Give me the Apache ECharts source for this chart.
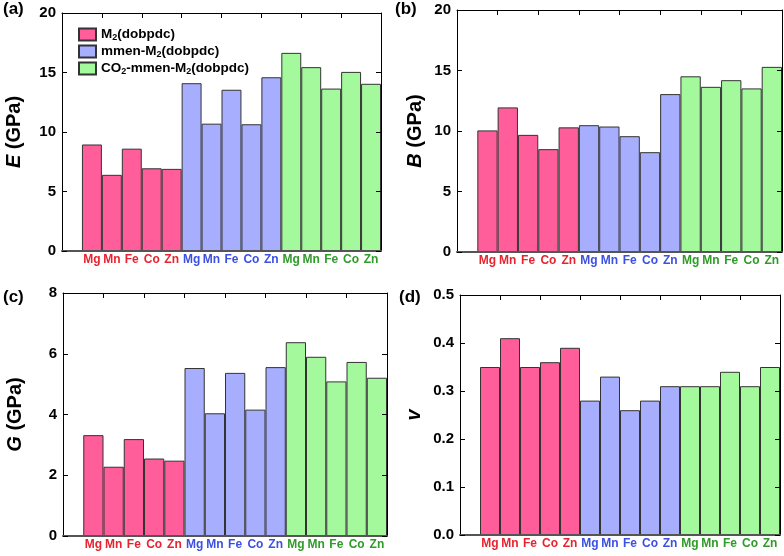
<!DOCTYPE html>
<html lang="en">
<head>
<meta charset="UTF-8" />
<style>
  html, body { margin: 0; padding: 0; background: #fff; }
  #main { width: 784px; height: 556px; }
</style>
</head>
<body>
<div id="main"></div>
<script src="https://cdn.jsdelivr.net/npm/echarts@6/dist/echarts.min.js"></script>
<script>
// metals in each group, three groups of frameworks
var metals = ['Mg', 'Mn', 'Fe', 'Co', 'Zn'];
var groupNames = ['M2(dobpdc)', 'mmen-M2(dobpdc)', 'CO2-mmen-M2(dobpdc)'];

// (a) Young's modulus E (GPa)
var E_m2   = [8.95, 6.4, 8.6, 6.95, 6.9];
var E_mmen = [14.1, 10.7, 13.55, 10.65, 14.6];
var E_co2  = [16.65, 15.45, 13.65, 15.05, 14.05];
// (b) bulk modulus B (GPa)
var B_m2   = [10.05, 11.95, 9.68, 8.5, 10.3];
var B_mmen = [10.48, 10.37, 9.57, 8.25, 13.05];
var B_co2  = [14.52, 13.65, 14.2, 13.52, 15.3];
// (c) shear modulus G (GPa)
var G_m2   = [3.32, 2.28, 3.19, 2.55, 2.48];
var G_mmen = [5.53, 4.04, 5.37, 4.16, 5.56];
var G_co2  = [6.38, 5.9, 5.09, 5.73, 5.21];
// (d) Poisson's ratio v
var v_m2   = [0.35, 0.41, 0.35, 0.36, 0.39];
var v_mmen = [0.28, 0.33, 0.26, 0.28, 0.31];
var v_co2  = [0.31, 0.31, 0.34, 0.31, 0.35];

// y axis ranges
var yMin = [0, 0, 0, 0];
var yMax = [20, 20, 8, 0.5];
var yStep = [5, 5, 2, 0.1];

var barColors = ['#ff5e9a', '#a7aefe', '#a3f99c'];
var labelColors = ['#e8232f', '#3c50e2', '#2f9b28'];

// first slot is left empty, as in the figure
var cats = [''];
for (var g = 0; g < 3; g++) cats = cats.concat(metals);

var panels = [
  { sets: [E_m2, E_mmen, E_co2], name: '{i|E} (GPa)', tag: '(a)', gap: 38 },
  { sets: [B_m2, B_mmen, B_co2], name: '{i|B} (GPa)', tag: '(b)', gap: 32 },
  { sets: [G_m2, G_mmen, G_co2], name: '{i|G} (GPa)', tag: '(c)', gap: 38 },
  { sets: [v_m2, v_mmen, v_co2], name: '{i|v}', tag: '(d)', gap: 36 }
];

var grids = [
  { left: 62, top: 13, width: 319, height: 238 },
  { left: 457, top: 10, width: 325, height: 242 },
  { left: 63, top: 293, width: 324, height: 243 },
  { left: 460, top: 295, width: 320, height: 240 }
];

var tagPos = [[3, 1], [395, 1], [3, 289], [399, 289]];

function sub(name) {
  return '{t|' + name.replace(/2/g, '}{s|2}{t|') + '}';
}

function ticks() {
  return { show: true, inside: true, length: 5, lineStyle: { color: '#000', width: 1 } };
}

var xAxes = [], yAxes = [], series = [], titles = [];

panels.forEach(function (p, k) {
  // bottom axis with labels
  xAxes.push({
    type: 'category', gridIndex: k, data: cats, position: 'bottom', z: 5,
    axisLine: { onZero: false, lineStyle: { color: '#555', width: 2 } },
    axisTick: { show: false },
    axisLabel: {
      interval: 0, margin: 3, fontSize: 12, fontWeight: 'bold',
      fontFamily: 'Liberation Sans, Arial',
      formatter: function (val, idx) {
        if (!val) return '';
        return '{g' + Math.floor((idx - 1) / 5) + '|' + val + '}';
      },
      rich: {
        g0: { color: labelColors[0], fontSize: 12, fontWeight: 'bold' },
        g1: { color: labelColors[1], fontSize: 12, fontWeight: 'bold' },
        g2: { color: labelColors[2], fontSize: 12, fontWeight: 'bold' }
      }
    }
  });
  // left axis
  yAxes.push({
    type: 'value', gridIndex: k, min: yMin[k], max: yMax[k], interval: yStep[k], z: 5,
    name: p.name, nameLocation: 'middle', nameGap: p.gap, nameRotate: 90,
    nameTextStyle: {
      fontSize: 20, fontWeight: 'bold', color: '#000', fontFamily: 'Liberation Sans, Arial',
      rich: { i: { fontSize: 20, fontWeight: 'bold', fontStyle: 'italic', color: '#000', fontFamily: 'Liberation Sans, Arial' } }
    },
    splitLine: { show: false },
    axisLine: { show: true, onZero: false, lineStyle: { color: '#000', width: 1 } },
    axisTick: ticks(),
    axisLabel: {
      margin: 6, fontSize: 15, fontWeight: 'bold', color: '#000',
      fontFamily: 'Liberation Sans, Arial',
      formatter: function (v) { return k === 3 ? v.toFixed(1) : String(v); }
    }
  });
  titles.push({
    text: p.tag, left: tagPos[k][0], top: tagPos[k][1], padding: 0,
    textStyle: { fontSize: 17, fontWeight: 'bold', color: '#000', fontFamily: 'Liberation Sans, Arial' }
  });
});

panels.forEach(function (p, k) {
  // top and right frame with inward ticks
  xAxes.push({
    type: 'category', gridIndex: k, data: cats, position: 'top', z: 5,
    axisLine: { show: true, onZero: false, lineStyle: { color: '#000', width: 1 } },
    axisTick: ticks(),
    axisLabel: { show: false }
  });
  yAxes.push({
    type: 'value', gridIndex: k, min: yMin[k], max: yMax[k], interval: yStep[k], z: 5,
    position: 'right', splitLine: { show: false },
    axisLine: { show: true, onZero: false, lineStyle: { color: '#000', width: 1 } },
    axisTick: ticks(),
    axisLabel: { show: false }
  });
});

panels.forEach(function (p, k) {
  p.sets.forEach(function (vals, g) {
    var data = cats.map(function () { return '-'; });
    vals.forEach(function (v, i) { data[1 + g * 5 + i] = v; });
    series.push({
      type: 'bar', name: groupNames[g], xAxisIndex: k, yAxisIndex: k,
      data: data, barWidth: '100%', barGap: '-100%',
      itemStyle: { color: barColors[g], borderColor: '#333', borderWidth: 1 },
      emphasis: { disabled: true }
    });
  });
});

var chart = echarts.init(document.getElementById('main'));
chart.setOption({
  animation: false,
  backgroundColor: '#fff',
  title: titles,
  grid: grids,
  xAxis: xAxes,
  yAxis: yAxes,
  legend: {
    data: groupNames, orient: 'vertical', left: 78, top: 27, padding: 0,
    itemWidth: 17, itemHeight: 12, itemGap: 2, icon: 'rect',
    formatter: sub,
    textStyle: {
      fontSize: 13.5, fontWeight: 'bold', color: '#000', fontFamily: 'Liberation Sans, Arial',
      rich: {
        t: { fontSize: 13.5, fontWeight: 'bold', color: '#000', lineHeight: 14, fontFamily: 'Liberation Sans, Arial' },
        s: { fontSize: 9, fontWeight: 'bold', color: '#000', lineHeight: 8, padding: [6, 0, 0, 0], fontFamily: 'Liberation Sans, Arial' }
      }
    }
  },
  series: series
});
</script>
</body>
</html>
